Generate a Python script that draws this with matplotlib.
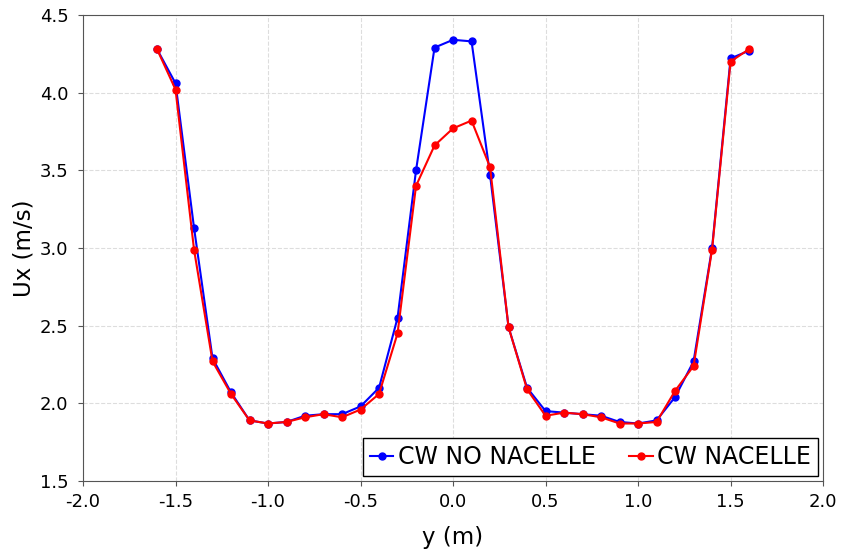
import numpy as np
import matplotlib.pyplot as plt

y_pos = np.round(np.arange(-1.6, 1.61, 0.1), 1)

ux_no_nacelle = [4.28, 4.06, 3.13, 2.29, 2.07, 1.89, 1.87, 1.88, 1.92, 1.93, 1.93,
                 1.98, 2.10, 2.55, 3.50, 4.29, 4.34, 4.33, 3.47, 2.49, 2.10, 1.95,
                 1.94, 1.93, 1.92, 1.88, 1.87, 1.89, 2.04, 2.27, 3.00, 4.22, 4.27]

ux_nacelle = [4.28, 4.02, 2.99, 2.27, 2.06, 1.89, 1.87, 1.88, 1.91, 1.93, 1.91,
              1.96, 2.06, 2.45, 3.40, 3.66, 3.77, 3.82, 3.52, 2.49, 2.09, 1.92,
              1.94, 1.93, 1.91, 1.87, 1.87, 1.88, 2.08, 2.24, 2.99, 4.20, 4.28]

fig = plt.figure(figsize=(8.41, 5.54), dpi=100)
ax = fig.add_axes([0.0987, 0.1318, 0.88, 0.8412])

ax.plot(y_pos, ux_no_nacelle, "-o", color="blue", lw=1.5, ms=5, label="CW NO NACELLE")
ax.plot(y_pos, ux_nacelle, "-o", color="red", lw=1.5, ms=5, label="CW NACELLE")

ax.set_xlim(-2.0, 2.0)
ax.set_ylim(1.5, 4.5)
ax.set_xticks(np.arange(-2.0, 2.01, 0.5))
ax.set_yticks(np.arange(1.5, 4.51, 0.5))
ax.xaxis.set_major_formatter(plt.FormatStrFormatter("%.1f"))
ax.yaxis.set_major_formatter(plt.FormatStrFormatter("%.1f"))
ax.tick_params(labelsize=13, color="#555555")
ax.tick_params(axis="y", pad=7)
ax.tick_params(axis="x", pad=5)
ax.grid(True, ls="--", color="#dddddd", lw=0.8)
ax.set_axisbelow(True)
for s in ax.spines.values():
    s.set_color("#555555")

ax.set_xlabel("y (m)", fontsize=16.5, labelpad=11)
ax.set_ylabel("Ux (m/s)", fontsize=16.5, labelpad=3)

leg = ax.legend(loc="lower right", ncol=2, fontsize=17, fancybox=False,
                edgecolor="black", framealpha=1, handlelength=1.0,
                handletextpad=0.2, columnspacing=1.4, borderaxespad=0.2,
                borderpad=0.3)
leg.get_frame().set_linewidth(1.0)

fig.savefig("out.png", dpi=100)
